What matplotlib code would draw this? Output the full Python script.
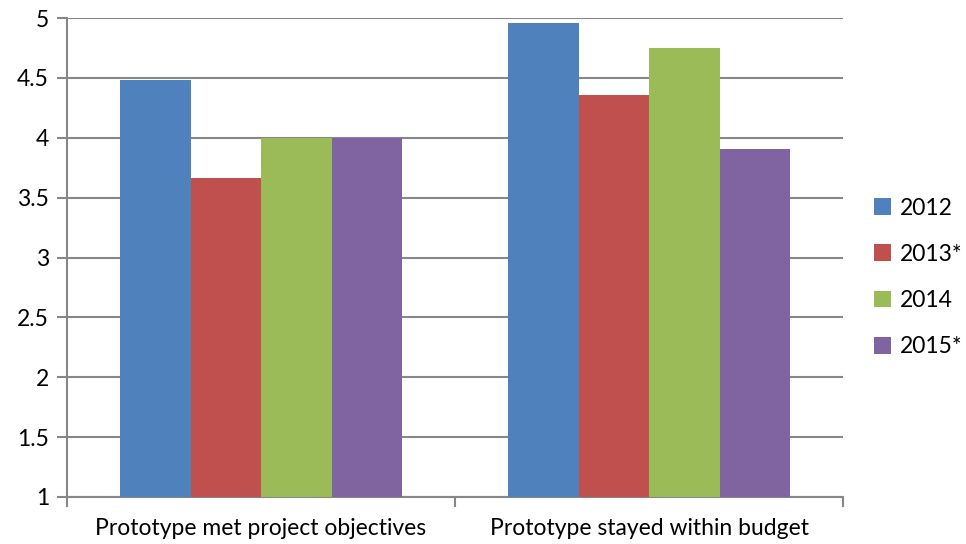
import matplotlib
matplotlib.use("Agg")
import matplotlib.pyplot as plt
import numpy as np

categories = ["Prototype met project objectives", "Prototype stayed within budget"]
series_names = ["2012", "2013*", "2014", "2015*"]
values_2012 = [4.48, 4.96]
values_2013 = [3.66, 4.36]
values_2014 = [4.00, 4.75]
values_2015 = [4.00, 3.91]
series_values = [values_2012, values_2013, values_2014, values_2015]
colors = ["#4F81BD", "#C0504D", "#9BBB59", "#8064A2"]
y_ticks = [1, 1.5, 2, 2.5, 3, 3.5, 4, 4.5, 5]

plt.rcParams["font.family"] = ["Lato", "DejaVu Sans"]

fig = plt.figure(figsize=(9.66, 5.44), dpi=100)
ax = fig.add_axes([0.0694, 0.0864, 0.8033, 0.8805])

grid_color = "#878787"
bar_w = 0.1817
x = np.arange(len(categories))
for i, (name, vals, c) in enumerate(zip(series_names, series_values, colors)):
    offs = (i - 1.5) * bar_w
    ax.bar(x + offs, np.array(vals) - 1, width=bar_w, bottom=1, color=c,
           label=name, zorder=3, linewidth=0)

ax.set_ylim(1, 5)
ax.set_xlim(-0.5, 1.5)
ax.set_yticks(y_ticks)
ax.set_yticklabels([f"{t:g}" for t in y_ticks])
ax.yaxis.grid(True, color=grid_color, linewidth=1.5, zorder=0)
ax.set_axisbelow(True)

# category labels centred, tick marks on category boundaries
ax.set_xticks(x)
ax.set_xticklabels(categories)
ax.tick_params(axis="x", which="major", length=0, pad=15, labelsize=16.5)
ax.set_xticks([-0.5, 0.5, 1.5], minor=True)
ax.tick_params(axis="x", which="minor", length=7, width=1.5, color=grid_color, direction="out")
ax.tick_params(axis="y", length=7, width=1.5, color=grid_color, labelsize=16.5, pad=6)

for s in ["top", "right"]:
    ax.spines[s].set_visible(False)
for s in ["left", "bottom"]:
    ax.spines[s].set_color(grid_color)
    ax.spines[s].set_linewidth(1.5)

leg = fig.legend(loc="center left", bbox_to_anchor=(0.905, 0.49), frameon=False,
                 fontsize=16.5, handlelength=0.75, handleheight=0.75,
                 handletextpad=0.35, labelspacing=1.1, borderpad=0, borderaxespad=0)

fig.savefig("out.png", dpi=100)
